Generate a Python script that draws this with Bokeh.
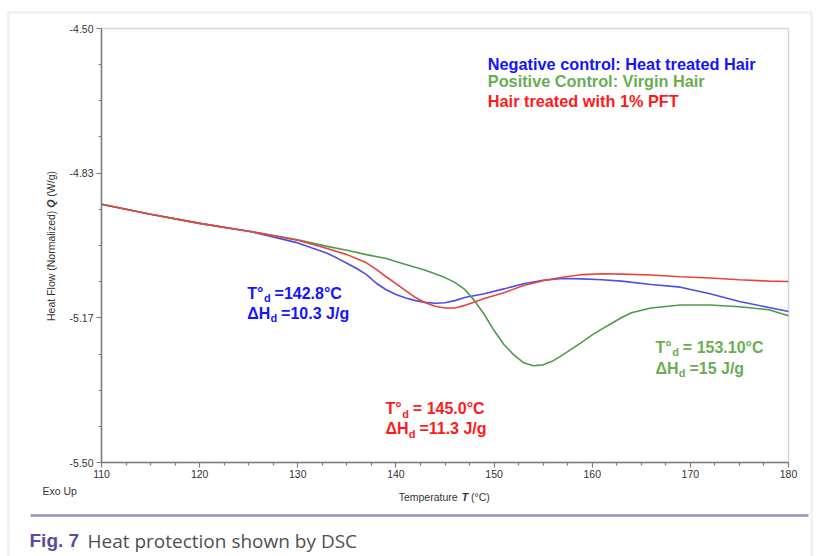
import math
from bokeh.plotting import figure
from bokeh.models import Range1d, FixedTicker, Label, BoxAnnotation, PrintfTickFormatter, LinearAxis
from bokeh.embed import file_html
from bokeh.resources import INLINE

# ---------------- data ----------------
temp_neg = [110, 115, 120, 125, 130, 133, 134, 135, 136, 137, 138, 139, 140, 141, 142, 143, 144,
            145, 146, 147, 149, 151, 153, 155, 157, 159, 161, 163, 166, 169, 172, 175, 178, 180]
heat_neg = [-4.905, -4.928, -4.949, -4.967, -4.994, -5.018, -5.029, -5.041, -5.053, -5.067,
            -5.087, -5.102, -5.113, -5.121, -5.127, -5.131, -5.133, -5.132, -5.127, -5.120,
            -5.111, -5.100, -5.088, -5.080, -5.076, -5.077, -5.079, -5.082, -5.090, -5.096,
            -5.111, -5.129, -5.143, -5.152]

temp_pos = [110, 115, 120, 125, 130, 133, 135, 137, 139, 141, 143, 145, 146, 147, 148, 149,
            150, 151, 152, 153, 154, 155, 156, 157, 158, 159, 160, 161, 162, 163, 164, 166,
            169, 172, 175, 178, 180]
heat_pos = [-4.905, -4.928, -4.949, -4.967, -4.987, -5.002, -5.011, -5.021, -5.030, -5.044,
            -5.057, -5.074, -5.085, -5.101, -5.127, -5.159, -5.196, -5.228, -5.252, -5.270,
            -5.277, -5.275, -5.266, -5.252, -5.237, -5.222, -5.206, -5.192, -5.179, -5.166,
            -5.155, -5.144, -5.137, -5.137, -5.141, -5.148, -5.162]

temp_pft = [110, 115, 120, 125, 130, 133, 135, 137, 138, 139, 140, 141, 142, 143, 144, 145,
            146, 147, 149, 151, 153, 155, 157, 159, 161, 163, 166, 169, 172, 175, 178, 180]
heat_pft = [-4.905, -4.928, -4.949, -4.967, -4.988, -5.007, -5.021, -5.040, -5.055, -5.072,
            -5.088, -5.104, -5.120, -5.132, -5.140, -5.144, -5.144, -5.138, -5.122, -5.109,
            -5.092, -5.081, -5.073, -5.067, -5.065, -5.066, -5.068, -5.072, -5.075, -5.079,
            -5.082, -5.083]

x_ticks = [110, 120, 130, 140, 150, 160, 170, 180]
x_minor_step = 2.5
y_ticks = [-4.50, -4.8333, -5.1667, -5.50]
y_minor_per_major = 4

series_names = ["Negative control: Heat treated Hair",
                "Positive Control: Virgin Hair",
                "Hair treated with 1% PFT"]
peak_temp_text = ["=142.8°C", "= 153.10°C", "= 145.0°C"]
enthalpy_text = ["=10.3 J/g", "=15 J/g", "=11.3 J/g"]

x_title = ["Temperature ", "T", " (°C)"]
y_title = ["Heat Flow (Normalized) ", "Q", " (W/g)"]
exo_text = "Exo Up"
caption_fig = "Fig. 7"
caption_text = "Heat protection shown by DSC"

# ---------------- layout / style ----------------
W, H = 819, 556
FL, FR, FT, FB = 101, 788, 28, 462          # pixel box of the plot area
XMIN, XMAX, YMIN, YMAX = 110, 180, -5.50, -4.50

def X(px):
    return XMIN + (px - FL) * (XMAX - XMIN) / (FR - FL)

def Y(py):
    return YMAX - (py - FT) * (YMAX - YMIN) / (FB - FT)

curve_colors = ["#4d4de8", "#4f9a4a", "#e8443f"]
text_colors = ["#1414ff", "#6aad55", "#ff1a1a"]
AX = "#7d7d7d"
SMALL = "10.5px"

# the frame covers the whole canvas; axes are pinned at the plot-box edges
p = figure(width=W, height=H, output_backend="svg", toolbar_location=None,
           x_range=Range1d(X(0), X(W)), y_range=Range1d(Y(H), Y(0)),
           x_axis_location=None, y_axis_location=None,
           min_border=0, min_border_left=0, min_border_right=0,
           min_border_top=0, min_border_bottom=0)
p.xgrid.visible = False
p.ygrid.visible = False
p.background_fill_color = "white"
p.border_fill_color = "white"
p.outline_line_color = None

x_minor = []
for a, b in zip(x_ticks[:-1], x_ticks[1:]):
    v = a + x_minor_step
    while v < b - 1e-9:
        x_minor.append(v)
        v += x_minor_step
y_minor = []
for a, b in zip(y_ticks[:-1], y_ticks[1:]):
    for k in range(1, y_minor_per_major):
        y_minor.append(a + (b - a) * k / y_minor_per_major)

xaxis = LinearAxis(ticker=FixedTicker(ticks=x_ticks, minor_ticks=x_minor),
                   fixed_location=YMIN, bounds=(XMIN, XMAX))
yaxis = LinearAxis(ticker=FixedTicker(ticks=y_ticks, minor_ticks=y_minor),
                   fixed_location=XMIN, bounds=(YMIN, YMAX),
                   formatter=PrintfTickFormatter(format="%.2f"))
for ax in (xaxis, yaxis):
    ax.axis_line_color = AX
    ax.axis_line_width = 1.5
    ax.major_tick_line_color = AX
    ax.minor_tick_line_color = AX
    ax.major_tick_line_width = 1.2
    ax.minor_tick_line_width = 1.2
    ax.major_tick_out = 5
    ax.major_tick_in = 0
    ax.minor_tick_out = 3
    ax.minor_tick_in = 0
    ax.major_label_text_font = "Liberation Sans"
    ax.major_label_text_font_size = SMALL
    ax.major_label_text_color = "#333333"
xaxis.major_label_standoff = 2
yaxis.major_label_standoff = 3
p.add_layout(xaxis, "below")
p.add_layout(yaxis, "left")

# plot box (top and right edges)
p.add_layout(BoxAnnotation(left=XMIN, right=XMAX, top=YMAX, bottom=YMIN,
                           fill_alpha=0, line_color=AX, line_width=1.5, level="underlay"))

# curves
p.line(temp_neg, heat_neg, line_color=curve_colors[0], line_width=1.6)
p.line(temp_pos, heat_pos, line_color=curve_colors[1], line_width=1.6)
p.line(temp_pft, heat_pft, line_color=curve_colors[2], line_width=1.6)

def lab(px, py, text, **kw):
    kw.setdefault("text_font", "Liberation Sans")
    l = Label(x=X(px), y=Y(py), x_units="data", y_units="data", text=text, **kw)
    p.add_layout(l)
    return l

def lab_base(px, baseline, text, size, **kw):
    # place text by its baseline (via the middle of the capitals)
    return lab(px, baseline - 0.36 * size, text, text_font_size=f"{size}px",
               text_baseline="middle", text_align="left", **kw)

# legend-like text block
legend_base = [69.3, 86.7, 106.7]
for name, col, yb in zip(series_names, text_colors, legend_base):
    lab_base(487.3, yb, name, 16.3, text_color=col, text_font_style="bold")

# peak annotations with subscript d
BIG = 16
SUB = 11
w_T = (0.611 + 0.400) * BIG
w_DH = (0.700 + 0.722) * BIG
w_d = 0.611 * SUB
w_sp = 0.278 * BIG

def sub_label(px, base, pre, wpre, post, col):
    common = dict(text_color=col, text_font_style="bold")
    lab_base(px, base, pre, BIG, **common)
    lab_base(px, base + 3, "d", SUB, x_offset=wpre + 0.5, **common)
    lab_base(px, base, post, BIG, x_offset=wpre + w_d + w_sp, **common)

anno_pos = [(246.7, 298.3, 318.3), (655.0, 352.3, 373.3), (385.0, 414.0, 434.0)]
for (px, y1, y2), tt, et, col in zip(anno_pos, peak_temp_text, enthalpy_text, text_colors):
    sub_label(px, y1, "T°", w_T, tt, col)
    sub_label(px, y2, "ΔH", w_DH, et, col)

# axis titles (with bold italic symbols)
AXF = 10.5
arial = {" ": .278, "H": .722, "e": .556, "a": .556, "t": .278, "F": .611, "l": .222, "o": .556,
         "w": .722, "(": .333, ")": .333, "N": .722, "r": .333, "m": .833, "i": .222, "z": .5,
         "d": .556, "W": .944, "/": .278, "g": .556, "T": .611, "p": .556, "u": .556,
         "°": .4, "C": .722}
arial_bi = {"Q": .778, "T": .611}

def em_width(s, table):
    return sum(table.get(c, 0.556) for c in s) * AXF

styles = ["normal", "bold italic", "normal"]
tables = [arial, arial_bi, arial]

def title_pieces(pieces):
    out = []
    off = 0.0
    for t, tab, st in zip(pieces, tables, styles):
        lead = len(t) - len(t.lstrip(" "))
        out.append((t.strip(" "), off + lead * arial[" "] * AXF, st))
        off += em_width(t, tab)
    return out, off

# x title
pieces, total = title_pieces(x_title)
x_start = 443.7 - total / 2
for t, o, st in pieces:
    lab(x_start, 496.7, t, text_font_size=f"{AXF}px", text_font_style=st, text_color="#333333",
        text_baseline="middle", text_align="left", x_offset=o)

# y title (rotated)
pieces, total = title_pieces(y_title)
y_start = 245.5 + total / 2
for t, o, st in pieces:
    lab(50, y_start, t, text_font_size=f"{AXF}px", text_font_style=st, text_color="#333333",
        text_baseline="middle", text_align="left", angle=math.pi / 2, y_offset=o)

lab(42, 490, exo_text, text_font_size=f"{AXF}px", text_color="#333333",
    text_baseline="middle", text_align="left")

# outer page box and caption rule
p.add_layout(BoxAnnotation(left=X(8), right=X(811), top=Y(12), bottom=Y(800),
                           fill_alpha=0, line_color="#d4d4d4", line_width=3))
p.add_layout(BoxAnnotation(left=X(30), right=X(808), top=Y(513.8), bottom=Y(516.3),
                           fill_color="#9a8fc8", fill_alpha=1, line_alpha=0))

lab_base(29, 547, caption_fig, 19, text_font="Liberation Sans", text_font_style="bold",
         text_color="#5b4b9f")
lab_base(87, 547, caption_text, 19, text_font="Open Sans", text_color="#505050")

open("out.html", "w").write(file_html(p, INLINE))
